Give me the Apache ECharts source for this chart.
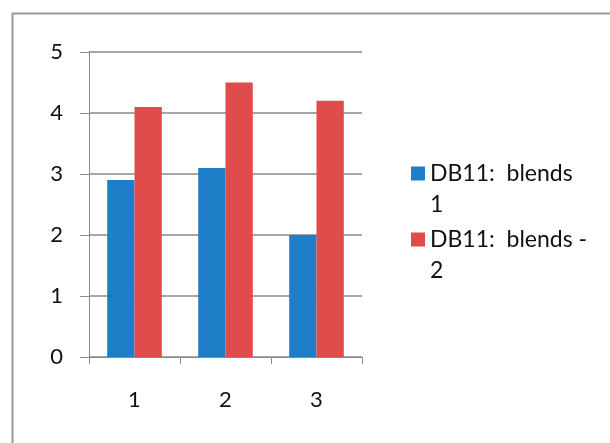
<!DOCTYPE html>
<html>
<head>
<meta charset="utf-8">
<script src="https://cdn.jsdelivr.net/npm/echarts@6/dist/echarts.min.js"></script>
<style>
  html, body { margin: 0; padding: 0; background: #fff; }
  #chart { width: 610px; height: 443px; }
</style>
</head>
<body>
<div id="chart"></div>
<script>
// Categories along the x axis
const categories = ['1', '2', '3'];
// Series names and their values
const seriesNames = ['DB11:  blends 1', 'DB11:  blends - 2'];
const blends1 = [2.9, 3.1, 2.0];
const blends2 = [4.1, 4.5, 4.2];
// Value axis range
const yMin = 0, yMax = 5, yStep = 1;

const FONT = 'Lato, "Liberation Sans", sans-serif';
const GRID = '#8a8a8a';

// Legend entry wraps onto two lines; a leading blank line keeps the
// first text line level with the colour swatch.
function legendLabel(name) {
  const i = name.lastIndexOf(' ');
  return '\u00a0\n' + name.slice(0, i) + '\n' + name.slice(i + 1);
}

function makeLegend(name, top) {
  return {
    orient: 'vertical',
    left: 406, top: top,
    itemWidth: 14, itemHeight: 14,
    icon: 'rect',
    data: [name],
    formatter: legendLabel,
    textStyle: { fontFamily: FONT, fontSize: 23, color: '#111', lineHeight: 31 }
  };
}

const chart = echarts.init(document.getElementById('chart'), null, { renderer: 'canvas' });

chart.setOption({
  backgroundColor: '#ffffff',
  animation: false,
  textStyle: { fontFamily: FONT },
  graphic: [{
    type: 'rect',
    left: 10, top: 11,
    shape: { width: 700, height: 500 },
    style: { fill: 'none', stroke: '#9a9a9a', lineWidth: 2 },
    silent: true
  }],
  grid: { left: 89, top: 52, right: 248, bottom: 86, containLabel: false },
  legend: [makeLegend(seriesNames[0], 122), makeLegend(seriesNames[1], 188)],
  xAxis: {
    type: 'category',
    data: categories,
    axisLine: { lineStyle: { color: GRID, width: 1 } },
    axisTick: { show: true, length: 7, lineStyle: { color: GRID } },
    axisLabel: { color: '#111', fontSize: 22, fontFamily: FONT, margin: 32 }
  },
  yAxis: {
    type: 'value',
    min: yMin, max: yMax, interval: yStep,
    axisLine: { show: true, lineStyle: { color: GRID, width: 1 } },
    axisTick: { show: true, length: 9, lineStyle: { color: GRID } },
    splitLine: { show: true, lineStyle: { color: GRID, width: 1.5 } },
    axisLabel: { color: '#111', fontSize: 22, fontFamily: FONT, margin: 26 }
  },
  series: [
    {
      name: seriesNames[0], type: 'bar', data: blends1,
      itemStyle: { color: '#1f7ec8' },
      barGap: '0%', barCategoryGap: '40%'
    },
    {
      name: seriesNames[1], type: 'bar', data: blends2,
      itemStyle: { color: '#e04b4b' },
      barGap: '0%', barCategoryGap: '40%'
    }
  ]
});
</script>
</body>
</html>
